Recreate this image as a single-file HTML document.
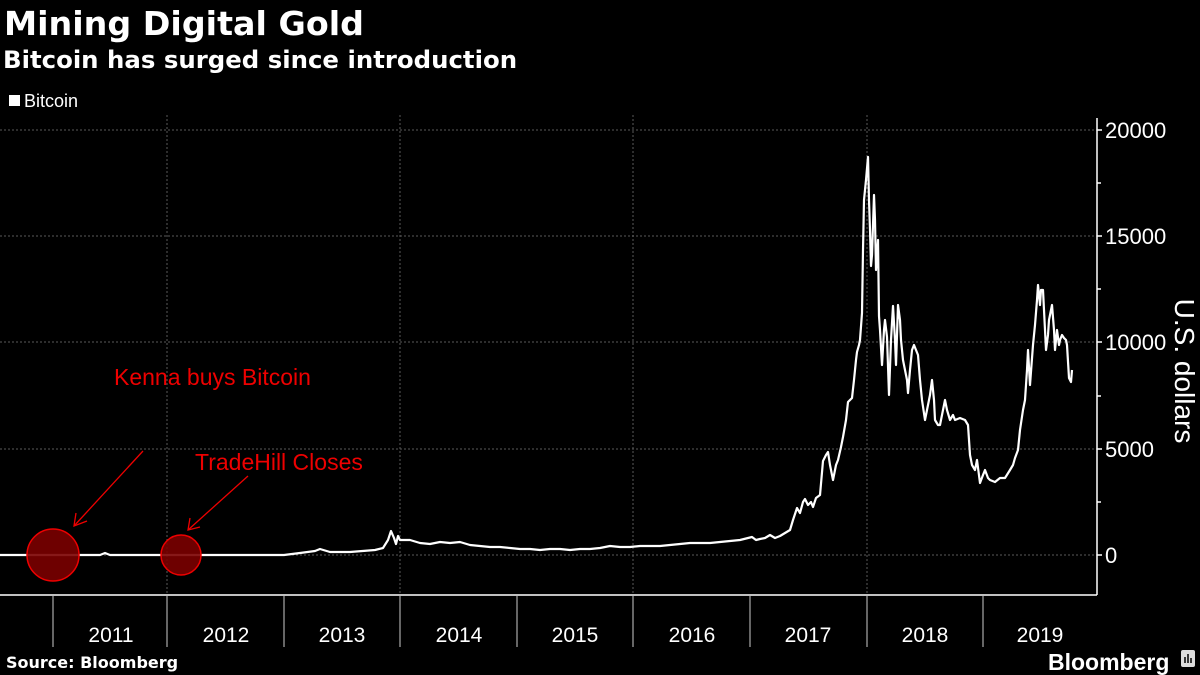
<!DOCTYPE html>
<html><head><meta charset="utf-8"><style>
body{margin:0;background:#000;}
svg{display:block}
</style></head><body>
<svg width="1200" height="675" viewBox="0 0 1200 675" xmlns="http://www.w3.org/2000/svg" font-family="'DejaVu Sans','Liberation Sans',sans-serif">
<rect width="1200" height="675" fill="#000"/>
<text x="4" y="35" fill="#fff" font-size="33.3" font-weight="bold">Mining Digital Gold</text>
<text x="3" y="68" fill="#fff" font-size="24.4" font-weight="bold">Bitcoin has surged since introduction</text>
<rect x="9" y="95" width="11" height="11" fill="#fff"/>
<text x="24" y="107" fill="#fff" font-size="18" font-family="'Liberation Sans',sans-serif">Bitcoin</text>
<g stroke="#5a5a5a" stroke-width="1" stroke-dasharray="2,2">
<line x1="0" y1="130" x2="1097" y2="130"/>
<line x1="0" y1="236" x2="1097" y2="236"/>
<line x1="0" y1="342" x2="1097" y2="342"/>
<line x1="0" y1="449" x2="1097" y2="449"/>
<line x1="0" y1="555" x2="1097" y2="555"/>
<line x1="167" y1="115" x2="167" y2="595"/>
<line x1="400" y1="115" x2="400" y2="595"/>
<line x1="633" y1="115" x2="633" y2="595"/>
<line x1="867" y1="115" x2="867" y2="595"/>
</g>
<g stroke="#fff" stroke-width="1.5">
<line x1="1097" y1="118" x2="1097" y2="595"/>
<line x1="0" y1="595" x2="1097" y2="595"/>
<line x1="1097" y1="130" x2="1102" y2="130"/><line x1="1097" y1="183" x2="1101" y2="183"/>
<line x1="1097" y1="236" x2="1102" y2="236"/><line x1="1097" y1="289" x2="1101" y2="289"/>
<line x1="1097" y1="342" x2="1102" y2="342"/><line x1="1097" y1="396" x2="1101" y2="396"/>
<line x1="1097" y1="449" x2="1102" y2="449"/><line x1="1097" y1="502" x2="1101" y2="502"/>
<line x1="1097" y1="555" x2="1102" y2="555"/>
</g>
<g stroke="#ccc" stroke-width="1">
<line x1="53" y1="596" x2="53" y2="647"/><line x1="167" y1="596" x2="167" y2="647"/>
<line x1="284" y1="596" x2="284" y2="647"/><line x1="400" y1="596" x2="400" y2="647"/>
<line x1="517" y1="596" x2="517" y2="647"/><line x1="633" y1="596" x2="633" y2="647"/>
<line x1="750" y1="596" x2="750" y2="647"/><line x1="867" y1="596" x2="867" y2="647"/>
<line x1="983" y1="596" x2="983" y2="647"/>
</g>
<g fill="#fff" font-size="21" font-family="'Liberation Sans',sans-serif" text-anchor="middle">
<text x="111" y="642">2011</text><text x="226" y="642">2012</text><text x="342" y="642">2013</text>
<text x="459" y="642">2014</text><text x="575" y="642">2015</text><text x="692" y="642">2016</text>
<text x="808" y="642">2017</text><text x="925" y="642">2018</text><text x="1040" y="642">2019</text>
</g>
<g fill="#fff" font-size="22" font-family="'Liberation Sans',sans-serif">
<text x="1105" y="138">20000</text><text x="1105" y="244">15000</text><text x="1105" y="350">10000</text>
<text x="1105" y="457">5000</text><text x="1105" y="563">0</text>
</g>
<text transform="translate(1175,371) rotate(90)" fill="#fff" font-size="28" text-anchor="middle" font-family="'Liberation Sans',sans-serif">U.S. dollars</text>
<polyline fill="none" stroke="#fff" stroke-width="2.2" stroke-linejoin="round" points="0,555 100,555 105,553 110,555 284,555 300,553 315,551 320,549 330,552 350,552 375,550 383,548 388,540 391,531 394,538 396,544 398,536 400,540 410,540 420,543 430,544 440,542 450,543 460,542 470,545 480,546 490,547 500,547 510,548 520,549 530,549 540,550 550,549 560,549 570,550 580,549 590,549 600,548 610,546 620,547 630,547 640,546 650,546 660,546 670,545 680,544 690,543 700,543 710,543 720,542 730,541 740,540 752,537 756,540 760,539 765,538 770,535 775,538 780,536 785,533 790,530 793,520 797,508 800,513 803,502 805,499 808,505 811,502 813,507 816,498 820,495 823,461 826,455 828,452 830,465 833,480 836,465 838,460 841,447 843,437 846,420 848,402 850,400 852,398 854,380 856,360 857,352 859,345 860,340 862,313 863,250 864,200 865,190 866,180 868,157 869,200 870,230 871,266 872,255 874,195 875,220 876,270 878,240 879,316 880,330 882,365 884,330 885,320 887,337 889,395 891,340 893,306 895,340 896,365 898,305 900,320 901,340 903,360 905,370 907,380 908,393 910,370 912,350 914,345 916,350 918,355 920,380 922,400 925,420 928,405 930,395 932,380 934,400 935,420 938,425 940,425 943,410 945,400 947,410 950,420 953,415 955,420 960,418 965,420 968,425 970,455 972,465 975,470 977,460 980,483 983,475 985,470 988,478 990,480 995,482 1000,478 1005,478 1010,470 1013,465 1015,458 1018,450 1020,430 1023,410 1025,400 1027,370 1028,350 1030,385 1033,345 1035,325 1037,300 1038,285 1040,305 1041,290 1043,290 1045,330 1046,350 1048,335 1049,320 1051,310 1052,305 1054,330 1055,350 1057,330 1059,345 1060,340 1062,335 1064,338 1066,340 1067,345 1069,378 1071,382 1072,370"/>
<circle cx="53" cy="555" r="26" fill="#7a0000" fill-opacity="0.9" stroke="#e00" stroke-width="1.5"/>
<circle cx="181" cy="555" r="20" fill="#7a0000" fill-opacity="0.9" stroke="#e00" stroke-width="1.5"/>
<g stroke="#e00" stroke-width="1.3" fill="none">
<line x1="143" y1="451" x2="74" y2="526"/><polyline points="76,513 74,526 87,521"/>
<line x1="248" y1="476" x2="188" y2="530"/><polyline points="190,518 188,530 200,527"/>
</g>
<text x="114" y="385" fill="#e00" font-size="23" font-family="'Liberation Sans',sans-serif">Kenna buys Bitcoin</text>
<text x="195" y="470" fill="#e00" font-size="23" font-family="'Liberation Sans',sans-serif">TradeHill Closes</text>
<text x="6" y="668" fill="#fff" font-size="16" font-weight="bold">Source: Bloomberg</text>
<text x="1048" y="670" fill="#fff" font-size="23" font-weight="bold" font-family="'Liberation Sans',sans-serif">Bloomberg</text>
<rect x="1181" y="650" width="14" height="17" rx="2" fill="#ddd"/>
<g stroke="#000" stroke-width="1.5"><line x1="1185" y1="663" x2="1185" y2="657"/><line x1="1188" y1="663" x2="1188" y2="654"/><line x1="1191" y1="663" x2="1191" y2="658"/></g>
</svg>
</body></html>
